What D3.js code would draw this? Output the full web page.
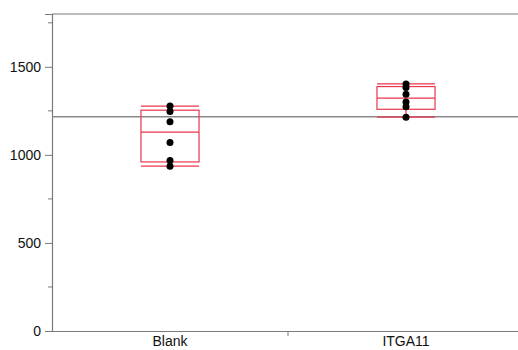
<!DOCTYPE html>
<html>
<head>
<meta charset="utf-8">
<script src="https://cdn.jsdelivr.net/npm/d3@7"></script>
<style>
  body { margin: 0; background: #fff; }
  svg { display: block; font-family: "Liberation Sans", Arial, sans-serif; }
</style>
</head>
<body>
<svg id="chart"></svg>
<script>
const width = 518;
const height = 350;

const groups = ["Blank", "ITGA11"];
const blankValues = [936, 968, 1070, 1188, 1246, 1277];
const itgaValues = [1214, 1274, 1300, 1344, 1383, 1403];
const majorTicks = [0, 500, 1000, 1500];
const minorTicks = [250, 750, 1250, 1750];

const series = [
  { group: "Blank", values: blankValues },
  { group: "ITGA11", values: itgaValues }
];

const margin = { top: 14, right: -6, bottom: 19, left: 52 };
const axisColor = "#7a7a7a";
const boxColor = "#e8364a";

const svg = d3.select("#chart")
  .attr("width", width)
  .attr("height", height);

const x = d3.scaleBand()
  .domain(groups)
  .range([margin.left, width - margin.right]);

const y = d3.scaleLinear()
  .domain([0, 1800])
  .range([height - margin.bottom, margin.top]);

// quantile the (n+1)p way
function quantile(sorted, p) {
  const n = sorted.length;
  const h = (n + 1) * p;
  const lo = Math.floor(h);
  if (lo < 1) return sorted[0];
  if (lo >= n) return sorted[n - 1];
  return sorted[lo - 1] + (h - lo) * (sorted[lo] - sorted[lo - 1]);
}

// frame: top line
svg.append("line")
  .attr("x1", margin.left).attr("x2", width)
  .attr("y1", y(1800)).attr("y2", y(1800))
  .attr("stroke", axisColor).attr("stroke-width", 1.2);

// y axis
const yAxisG = svg.append("g")
  .attr("transform", `translate(${margin.left},0)`)
  .call(d3.axisLeft(y).tickValues(majorTicks).tickFormat(d3.format("d")).tickSize(7).tickPadding(4));
yAxisG.select(".domain").attr("stroke", axisColor).attr("stroke-width", 1.2);
yAxisG.selectAll(".tick line").attr("stroke", axisColor);
yAxisG.selectAll(".tick text")
  .attr("font-size", 14).attr("fill", "#111");

svg.append("g")
  .selectAll("line")
  .data(minorTicks)
  .enter()
  .append("line")
  .attr("x1", margin.left - 4).attr("x2", margin.left)
  .attr("y1", d => y(d)).attr("y2", d => y(d))
  .attr("stroke", axisColor);

// x axis
const xAxisG = svg.append("g")
  .attr("transform", `translate(0,${y(0)})`)
  .call(d3.axisBottom(x).tickSize(0).tickPadding(5));
xAxisG.select(".domain").attr("stroke", axisColor).attr("stroke-width", 1.2);
xAxisG.selectAll(".tick text")
  .attr("font-size", 14).attr("fill", "#111");

// separator tick between groups
svg.append("line")
  .attr("x1", x("ITGA11")).attr("x2", x("ITGA11"))
  .attr("y1", y(0)).attr("y2", y(0) + 5)
  .attr("stroke", axisColor);

// grand mean line
const grandMean = d3.mean(blankValues.concat(itgaValues));
svg.append("line")
  .attr("x1", margin.left).attr("x2", width)
  .attr("y1", y(grandMean)).attr("y2", y(grandMean))
  .attr("stroke", "#8a8a8a").attr("stroke-width", 1.4);

// quantile boxes
const boxW = x.bandwidth() * 0.246;
const boxes = svg.append("g")
  .selectAll("g")
  .data(series)
  .enter()
  .append("g")
  .attr("transform", d => `translate(${x(d.group) + x.bandwidth() / 2},0)`);

boxes.each(function (d) {
  const s = d.values.slice().sort(d3.ascending);
  const q10 = quantile(s, 0.10);
  const q25 = quantile(s, 0.25);
  const q50 = quantile(s, 0.50);
  const q75 = quantile(s, 0.75);
  const q90 = quantile(s, 0.90);
  const g = d3.select(this);

  g.append("rect")
    .attr("x", -boxW / 2).attr("width", boxW)
    .attr("y", y(q75)).attr("height", y(q25) - y(q75))
    .attr("fill", "none").attr("stroke", boxColor).attr("stroke-width", 1.2);

  g.selectAll(".qline")
    .data([q10, q50, q90])
    .enter()
    .append("line")
    .attr("class", "qline")
    .attr("x1", -boxW / 2).attr("x2", boxW / 2)
    .attr("y1", v => y(v)).attr("y2", v => y(v))
    .attr("stroke", boxColor).attr("stroke-width", 1.2);

  g.selectAll(".whisker")
    .data([[q90, q75], [q25, q10]])
    .enter()
    .append("line")
    .attr("class", "whisker")
    .attr("x1", 0).attr("x2", 0)
    .attr("y1", v => y(v[0])).attr("y2", v => y(v[1]))
    .attr("stroke", boxColor).attr("stroke-width", 1.2);

  g.selectAll("circle")
    .data(d.values)
    .enter()
    .append("circle")
    .attr("cx", 0)
    .attr("cy", v => y(v))
    .attr("r", 3.5)
    .attr("fill", "#000");
});
</script>
</body>
</html>
